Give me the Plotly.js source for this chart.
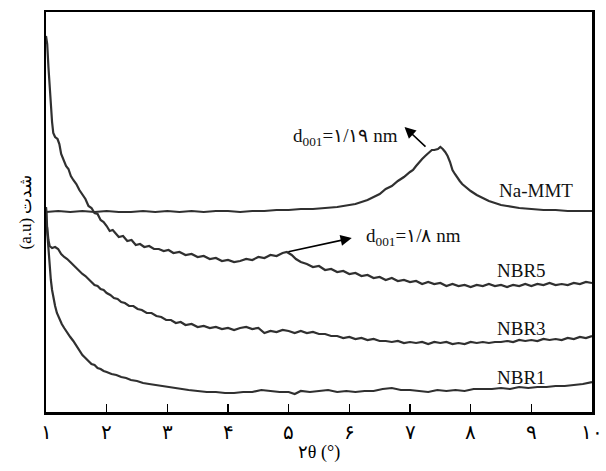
<!DOCTYPE html>
<html>
<head>
<meta charset="utf-8">
<script src="https://cdn.plot.ly/plotly-3.0.1.min.js"></script>
<style>html,body{margin:0;padding:0;background:#fff;}#chart{width:606px;height:471px;}</style>
</head>
<body>
<div id="chart"></div>
<script>
const tickVals = [1,2,3,4,5,6,7,8,9,10];
const tickText = ['۱','۲','۳','۴','۵','۶','۷','۸','۹','۱۰'];
const seriesNames = ['Na-MMT','NBR5','NBR3','NBR1'];

const naX = [1.00,1.20,1.40,1.60,1.80,2.00,2.20,2.40,2.60,2.80,3.00,3.20,3.40,3.60,3.80,4.00,4.20,4.40,4.60,4.80,5.00,5.20,5.40,5.60,5.80,6.00,6.10,6.20,6.30,6.40,6.50,6.60,6.70,6.80,6.90,7.00,7.05,7.10,7.15,7.20,7.25,7.30,7.36,7.40,7.46,7.50,7.54,7.58,7.62,7.66,7.70,7.74,7.78,7.82,7.86,7.90,7.95,8.00,8.05,8.10,8.20,8.30,8.40,8.50,8.60,8.70,8.80,9.00,9.20,9.40,9.60,9.80,10.00];
const naY = [200,201,200,201,200,201,200,200,201,200,201,200,201,200,201,201,200,201,201,202,202,203,203,204,205,207,208,210,212,215,218,223,226,231,235,240,242,246,250,253,256,259,262,262,263,265,263,260,256,250,242,238,234,231,228,226,223,221,219,217,214,211,209,207,206,205,204,203,202,202,201,201,201];

const n5X = [1.00,1.02,1.04,1.06,1.08,1.10,1.12,1.15,1.19,1.22,1.25,1.29,1.33,1.37,1.41,1.45,1.50,1.55,1.60,1.65,1.70,1.75,1.80,1.85,1.90,1.95,2.00,2.05,2.10,2.15,2.20,2.27,2.34,2.41,2.48,2.55,2.62,2.70,2.78,2.86,2.94,3.02,3.10,3.20,3.30,3.40,3.50,3.60,3.70,3.80,3.90,4.00,4.10,4.20,4.30,4.40,4.50,4.60,4.70,4.80,4.90,4.97,5.05,5.12,5.20,5.30,5.40,5.50,5.60,5.70,5.80,5.90,6.00,6.10,6.20,6.30,6.40,6.50,6.60,6.70,6.80,6.90,7.00,7.10,7.20,7.30,7.40,7.50,7.60,7.70,7.80,7.90,8.00,8.10,8.20,8.30,8.40,8.50,8.60,8.70,8.80,8.90,9.00,9.10,9.20,9.30,9.40,9.50,9.60,9.70,9.80,9.90,10.00];
const n5Y = [376,368,345,322,305,290,279,275,273,268,258,252,246,243,236,232,228,222,218,213,206,204,199,198,192,190,186,181,182,178,175,176,171,172,167,168,165,166,163,163,161,162,159,160,157,158,155,156,153,154,151,152,150,151,153,152,155,154,157,156,159,160,157,153,150,148,145,146,142,143,140,141,138,139,136,137,134,135,132,134,131,132,130,131,128,130,128,129,126,128,126,127,125,127,126,128,126,127,125,127,126,128,126,128,127,129,127,128,127,129,128,130,129];

const n3X = [1.00,1.02,1.04,1.06,1.10,1.15,1.20,1.25,1.30,1.35,1.40,1.45,1.50,1.55,1.60,1.65,1.70,1.75,1.80,1.85,1.90,1.95,2.00,2.06,2.12,2.18,2.24,2.30,2.37,2.44,2.51,2.58,2.66,2.74,2.82,2.90,2.98,3.06,3.14,3.22,3.30,3.40,3.50,3.60,3.70,3.80,3.90,4.00,4.10,4.20,4.30,4.40,4.50,4.60,4.70,4.80,4.90,5.00,5.10,5.20,5.30,5.40,5.50,5.60,5.70,5.80,5.90,6.00,6.10,6.20,6.30,6.40,6.50,6.60,6.70,6.80,6.90,7.00,7.10,7.20,7.30,7.40,7.50,7.60,7.70,7.80,7.90,8.00,8.10,8.20,8.30,8.40,8.50,8.60,8.70,8.80,8.90,9.00,9.10,9.20,9.30,9.40,9.50,9.60,9.70,9.80,9.90,10.00];
const n3Y = [190,184,172,166,164,165,163,158,155,153,150,147,143,141,138,136,133,131,127,126,123,122,119,117,114,113,110,109,106,106,103,102,99,99,96,95,92,92,89,90,87,88,85,86,84,85,83,84,82,84,85,83,84,79,81,80,82,81,79,81,79,80,78,78,76,76,74,75,73,74,72,73,71,71,70,71,69,70,69,70,68,70,69,70,68,69,68,70,69,70,69,70,70,71,70,72,71,72,71,73,72,73,72,74,73,75,74,76];

const n1X = [1.00,1.01,1.02,1.04,1.06,1.08,1.10,1.12,1.15,1.18,1.22,1.26,1.30,1.35,1.40,1.45,1.50,1.55,1.60,1.65,1.70,1.75,1.80,1.85,1.90,1.95,2.00,2.08,2.16,2.24,2.32,2.40,2.50,2.60,2.70,2.80,2.90,3.00,3.10,3.20,3.35,3.50,3.65,3.80,3.95,4.10,4.25,4.40,4.55,4.70,4.85,5.00,5.10,5.20,5.35,5.50,5.65,5.80,5.95,6.10,6.25,6.40,6.55,6.70,6.85,7.00,7.15,7.30,7.45,7.60,7.75,7.90,8.05,8.20,8.35,8.50,8.65,8.80,8.95,9.10,9.25,9.40,9.55,9.70,9.85,10.00];
const n1Y = [205,199,180,160,145,132,122,114,106,99,93,88,84,79,75,71,66,62,57,54,51,48,47,44,43,41,40,38,37,35,34,32,31,29,28,27,26,25,24,23,22,21,20,20,19,19,20,20,22,21,20,20,18,21,20,21,22,20,21,20,21,21,23,24,22,22,21,20,22,21,22,21,23,23,23,24,23,25,24,25,25,26,26,27,28,30];

const lineStyle = {color:'#303030', width:2.2};
const serif = 'Liberation Serif, Times New Roman, DejaVu Serif, serif';

const traces = [
  {x:naX, y:naY, name:seriesNames[0]},
  {x:n5X, y:n5Y, name:seriesNames[1]},
  {x:n3X, y:n3Y, name:seriesNames[2]},
  {x:n1X, y:n1Y, name:seriesNames[3]}
].map(t => Object.assign(t, {type:'scatter', mode:'lines', line:lineStyle, showlegend:false, hoverinfo:'skip'}));

const labelFont = {family:serif, size:19, color:'#111'};
const annotations = [
  {x:9.07, y:222, text:seriesNames[0], showarrow:false, font:labelFont},
  {x:8.84, y:142, text:seriesNames[1], showarrow:false, font:labelFont},
  {x:8.84, y:84, text:seriesNames[2], showarrow:false, font:labelFont},
  {x:8.84, y:35, text:seriesNames[3], showarrow:false, font:labelFont},
  {x:5.93, y:275, text:'d<sub>001</sub>=۱/۱۹ nm', showarrow:false, font:labelFont},
  {x:7.05, y:175, text:'d<sub>001</sub>=۱/۸ nm', showarrow:false, font:labelFont},
  {x:6.91, y:285, ax:7.28, ay:264, axref:'x', ayref:'y', xref:'x', yref:'y', text:'', showarrow:true, arrowhead:2, arrowsize:1.4, arrowwidth:1.6, arrowcolor:'#000'},
  {x:6.04, y:174, ax:4.97, ay:160, axref:'x', ayref:'y', xref:'x', yref:'y', text:'', showarrow:true, arrowhead:2, arrowsize:1.4, arrowwidth:1.6, arrowcolor:'#000'}
];

const layout = {
  width:606, height:471,
  margin:{l:46, r:14, t:12, b:59},
  paper_bgcolor:'#fff', plot_bgcolor:'#fff',
  font:{family:serif, color:'#000'},
  xaxis:{
    range:[1,10], tickvals:tickVals, ticktext:tickText,
    ticks:'inside', ticklen:8, tickwidth:1.5, tickcolor:'#000',
    showline:true, linewidth:2.5, linecolor:'#000', mirror:true,
    showgrid:false, zeroline:false,
    tickfont:{family:serif, size:20, color:'#000'},
    title:{text:'۲θ (°)', font:{family:serif, size:18, color:'#000'}, standoff:4}
  },
  yaxis:{
    range:[0,400], showticklabels:false, ticks:'',
    showline:true, linewidth:2.5, linecolor:'#000', mirror:true,
    showgrid:false, zeroline:false,
    title:{text:'(a.u) شدت', font:{family:serif, size:17, color:'#000'}, standoff:8}
  },
  annotations:annotations
};

Plotly.newPlot('chart', traces, layout, {staticPlot:true, displayModeBar:false});
</script>
</body>
</html>
